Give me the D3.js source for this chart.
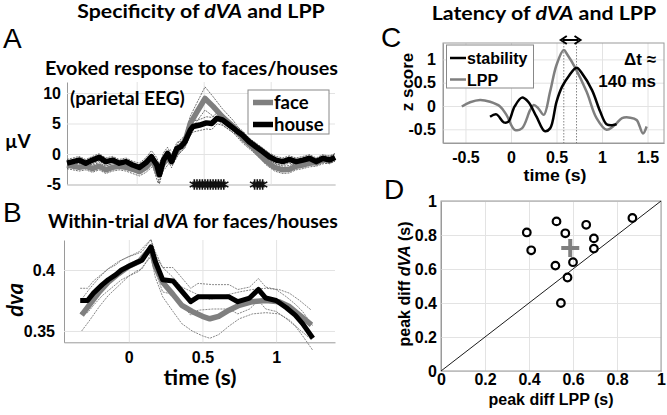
<!DOCTYPE html>
<html>
<head>
<meta charset="utf-8">
<script src="https://cdn.jsdelivr.net/npm/d3@7"></script>
<style>
  body { margin: 0; background: #fff; }
  .cal { font-family: Lato, "Open Sans", sans-serif; font-weight: bold; }
  .hel { font-family: "Liberation Sans", Arial, sans-serif; font-weight: bold; }
</style>
</head>
<body>
<div id="chart"></div>
<script>
// panel A : evoked response (parietal EEG), uV
const timeFaceA = [-0.52,-0.43,-0.38,-0.33,-0.28,-0.23,-0.18,-0.13,-0.08,-0.03,0.02,0.07,0.12,0.16,0.20,0.25,0.27,0.32,0.36,0.40,0.45,0.51,0.57,0.64,0.72,0.79,0.86,0.92,0.97,1.03,1.09,1.14,1.19,1.24,1.29,1.34,1.39,1.44,1.48];
const faceA = [-1.8,-2.2,-2.0,-2.4,-2.0,-2.6,-2.2,-2.0,-2.2,-2.5,-2.9,-2.2,-1.0,-3.3,-1.5,-0.3,-0.7,1.2,2.0,5.0,6.9,9.1,7.8,6.1,4.5,2.6,1.2,-0.15,-1.25,-2.2,-2.6,-2.5,-2.0,-1.8,-1.5,-1.4,-1.0,-0.9,-0.55];
const faceErrA = [0.6,0.6,0.6,0.6,0.6,0.6,0.6,0.6,0.6,0.7,0.7,0.8,1.0,1.5,1.2,1.0,1.0,1.0,1.0,1.2,1.5,1.9,1.6,1.3,1.0,0.8,0.7,0.6,0.6,0.6,0.6,0.6,0.6,0.6,0.6,0.6,0.6,0.6,0.6];
const timeHouseA = [-0.52,-0.43,-0.38,-0.33,-0.28,-0.23,-0.18,-0.13,-0.08,-0.03,0.02,0.07,0.11,0.15,0.17,0.20,0.23,0.26,0.30,0.33,0.36,0.40,0.42,0.47,0.52,0.56,0.60,0.64,0.69,0.74,0.79,0.84,0.89,0.94,0.99,1.04,1.09,1.14,1.19,1.24,1.29,1.34,1.39,1.44,1.48];
const houseA = [-1.5,-1.0,-1.5,-1.0,-0.55,-1.25,-1.0,-1.5,-1.25,-1.8,-2.2,-1.4,-0.45,-1.8,-3.4,-1.0,0.1,-1.25,0.9,1.2,2.0,3.9,4.5,4.75,5.1,5.0,5.85,5.6,4.75,3.9,3.1,2.0,1.2,0.4,-0.45,-1.0,-1.25,-0.9,-1.25,-1.0,-0.7,-1.25,-0.7,-1.0,-0.55];
const houseErrA = [0.6,0.6,0.6,0.6,0.6,0.6,0.6,0.6,0.6,0.6,0.7,0.8,1.0,1.2,1.5,1.2,1.0,1.0,1.0,0.9,0.9,0.9,0.9,0.9,1.0,1.0,0.9,0.9,0.8,0.7,0.7,0.6,0.6,0.6,0.6,0.6,0.6,0.6,0.6,0.6,0.6,0.6,0.6,0.6,0.6];
const sigTimesA = [0.43,0.45,0.47,0.49,0.51,0.53,0.55,0.57,0.59,0.61,0.63,0.65,0.88,0.90,0.92,0.94];

// panel B : within-trial dVA
const timeFaceB = [-0.32,-0.27,-0.20,-0.14,-0.07,0,0.07,0.15,0.18,0.23,0.30,0.36,0.43,0.50,0.55,0.61,0.68,0.75,0.84,0.93,1.02,1.09,1.16,1.24];
const faceB = [0.363,0.371,0.382,0.390,0.397,0.403,0.407,0.418,0.403,0.390,0.380,0.371,0.366,0.362,0.360,0.362,0.367,0.371,0.374,0.375,0.374,0.370,0.363,0.355];
const faceErrB = [0.013,0.013,0.012,0.011,0.010,0.008,0.008,0.007,0.009,0.012,0.014,0.015,0.016,0.016,0.016,0.015,0.013,0.011,0.010,0.010,0.010,0.011,0.012,0.012];
const timeHouseB = [-0.33,-0.28,-0.24,-0.18,-0.14,-0.09,-0.05,0,0.05,0.09,0.15,0.18,0.23,0.30,0.35,0.42,0.47,0.57,0.68,0.74,0.82,0.88,0.93,1.00,1.07,1.13,1.18,1.25];
const houseB = [0.375,0.375,0.381,0.388,0.392,0.396,0.400,0.403,0.406,0.408,0.419,0.407,0.392,0.391,0.384,0.374,0.378,0.378,0.378,0.374,0.377,0.384,0.377,0.375,0.369,0.363,0.356,0.344];
const houseErrB = [0.010,0.010,0.010,0.009,0.009,0.008,0.008,0.008,0.007,0.007,0.006,0.008,0.010,0.011,0.011,0.011,0.011,0.010,0.010,0.010,0.009,0.009,0.009,0.009,0.009,0.009,0.010,0.010];

// panel C : latency (z score)
const timeLPP = [-0.54,-0.45,-0.34,-0.23,-0.12,-0.05,0.04,0.12,0.21,0.25,0.30,0.36,0.43,0.50,0.58,0.62,0.70,0.83,0.94,1.05,1.14,1.22,1.31,1.38,1.45,1.49];
const zLPP = [-0.01,0.08,0.13,0.09,-0.01,-0.19,-0.51,-0.48,-0.09,0.02,-0.05,-0.19,0.31,0.88,1.20,1.10,0.84,0.31,-0.26,-0.51,-0.41,-0.26,-0.25,-0.30,-0.59,-0.44];
const timeStab = [-0.23,-0.16,-0.08,-0.03,0.04,0.12,0.19,0.28,0.37,0.43,0.50,0.56,0.63,0.72,0.78,0.89,0.98,1.05,1.12,1.16];
const zStab = [-0.23,-0.18,-0.35,-0.34,-0.01,0.18,0.09,-0.23,-0.54,-0.48,0.09,0.41,0.63,0.82,0.70,0.34,-0.12,-0.39,-0.41,-0.39];
const peakTimes = [0.58, 0.72];

// panel D : peak difference per subject (s)
const lppPeakDiff = [0.39,0.41,0.525,0.565,0.52,0.60,0.575,0.545,0.66,0.695,0.695,0.87];
const dvaPeakDiff = [0.815,0.71,0.88,0.81,0.62,0.64,0.55,0.40,0.86,0.78,0.72,0.90];

const GRAY = "#7f7f7f";
const svg = d3.select("#chart").append("svg")
  .attr("width", 667).attr("height", 415)
  .style("background", "#fff");

function txt(x, y, s, cls, size, anchor) {
  return svg.append("text").attr("x", x).attr("y", y)
    .attr("class", cls).attr("font-size", size)
    .attr("text-anchor", anchor || "start").text(s);
}

// stretch a text horizontally to the width seen in the figure
function fit(sel, w) {
  const bb = sel.node().getBBox();
  const mid = sel.attr("text-anchor") === "middle";
  const ax = mid ? bb.x + bb.width / 2 : bb.x;
  const k = w / bb.width;
  sel.attr("transform", `translate(${ax},0) scale(${k},1) translate(${-ax},0)`);
  return sel;
}

// axes with grid lines, returns scales
function axes(o) {
  const x = d3.scaleLinear().domain(o.xd).range([o.l, o.r]);
  const y = d3.scaleLinear().domain(o.yd).range([o.b, o.t]);
  const gx = svg.append("g").attr("transform", `translate(0,${o.b})`)
    .call(d3.axisBottom(x).tickValues(o.xt).tickSize(-(o.b - o.t)).tickSizeOuter(0)
      .tickPadding(o.xpad || 0).tickFormat(o.xlab ? d => String(d) : ""));
  const gy = svg.append("g").attr("transform", `translate(${o.l},0)`)
    .call(d3.axisLeft(y).tickValues(o.yt).tickSize(-(o.r - o.l)).tickSizeOuter(0)
      .tickPadding(o.ypad).tickFormat(d => String(d)));
  [gx, gy].forEach(g => {
    g.attr("font-family", null).attr("font-size", null);
    g.select(".domain").attr("stroke", "#9a9a9a").attr("stroke-width", 1);
    g.selectAll(".tick line").attr("stroke", "#e3e3e3").attr("stroke-width", 1);
    g.selectAll(".tick text").attr("class", "hel").attr("font-size", 16).attr("fill", "#000");
  });
  if (o.box) {
    svg.append("rect").attr("x", o.l).attr("y", o.t)
      .attr("width", o.r - o.l).attr("height", o.b - o.t)
      .attr("fill", "none").attr("stroke", "#9a9a9a");
  }
  return { x, y };
}

function band(sc, ts, vs, es, stroke) {
  [1, -1].forEach(s => {
    svg.append("path")
      .datum(ts.map((t, i) => [t, vs[i] + s * es[i]]))
      .attr("d", d3.line().x(d => sc.x(d[0])).y(d => sc.y(d[1])))
      .attr("fill", "none").attr("stroke", stroke)
      .attr("stroke-width", 0.7).attr("stroke-dasharray", "2,1");
  });
}

function thick(sc, ts, vs, color, w, curve) {
  svg.append("path")
    .datum(ts.map((t, i) => [t, vs[i]]))
    .attr("d", d3.line().curve(curve || d3.curveLinear).x(d => sc.x(d[0])).y(d => sc.y(d[1])))
    .attr("fill", "none").attr("stroke", color).attr("stroke-width", w)
    .attr("stroke-linejoin", "round");
}

// ---------- left column titles ----------
const t1 = txt(201, 18, "Specificity of ", "cal", 19, "middle");
t1.append("tspan").attr("font-style", "italic").text("dVA");
t1.append("tspan").text(" and LPP");
fit(t1, 248);
txt(3, 48, "A", "", 28).attr("font-family", "Liberation Sans, Arial, sans-serif");
fit(txt(45, 75, "Evoked response to faces/houses", "cal", 19), 293);

// ---------- panel A ----------
const scA = axes({ l: 67, r: 335, t: 82, b: 184.5, xd: [-0.52, 1.48], yd: [-5, 11.8],
  xt: [0, 0.5, 1], yt: [-5, 0, 5, 10], ypad: 6, xlab: false });
band(scA, timeFaceA, faceA, faceErrA, "#333");
band(scA, timeHouseA, houseA, houseErrA, "#333");
thick(scA, timeFaceA, faceA, GRAY, 5.5);
thick(scA, timeHouseA, houseA, "#000", 5.5);
const star = d3.symbol().type(d3.symbolAsterisk || d3.symbolCross).size(80);
svg.append("g").selectAll("path").data(sigTimesA).join("path")
  .attr("transform", d => `translate(${scA.x(d)},${scA.y(-5)})`)
  .attr("d", star).attr("fill", "none").attr("stroke", "#111").attr("stroke-width", 1.6);
fit(txt(70, 105, "(parietal EEG)", "cal", 18), 115);
txt(5, 148, "µV", "cal", 19);
// legend A
svg.append("rect").attr("x", 248).attr("y", 90).attr("width", 81).attr("height", 44)
  .attr("fill", "#fff").attr("stroke", "#888");
[["face", GRAY, 102.5], ["house", "#000", 124.5]].forEach(([n, c, yy]) => {
  svg.append("line").attr("x1", 253).attr("x2", 273).attr("y1", yy).attr("y2", yy)
    .attr("stroke", c).attr("stroke-width", 5.5);
  txt(274, yy + 6, n, "cal", 18.5);
});

// ---------- panel B ----------
txt(3, 222, "B", "", 28).attr("font-family", "Liberation Sans, Arial, sans-serif");
const t2 = txt(48, 228, "Within-trial ", "cal", 19);
t2.append("tspan").attr("font-style", "italic").text("dVA");
t2.append("tspan").text(" for faces/houses");
fit(t2, 290);
const scB = axes({ l: 64, r: 335, t: 240, b: 342.3, xd: [-0.44, 1.40], yd: [0.3407, 0.4246],
  xt: [0, 0.5, 1], yt: [0.35, 0.4], ypad: 9, xpad: 9.5, xlab: true });
band(scB, timeFaceB, faceB, faceErrB, "#555");
band(scB, timeHouseB, houseB, houseErrB, "#555");
thick(scB, timeFaceB, faceB, GRAY, 5.5);
thick(scB, timeHouseB, houseB, "#000", 5);
svg.append("text").attr("class", "cal").attr("font-size", 22).attr("font-style", "italic")
  .attr("text-anchor", "middle").attr("transform", "translate(23,300) rotate(-90)").text("dva");
fit(txt(200, 385, "time (s)", "cal", 20, "middle"), 73);

// ---------- panel C ----------
const t3 = txt(544, 20, "Latency of ", "cal", 19, "middle");
t3.append("tspan").attr("font-style", "italic").text("dVA");
t3.append("tspan").text(" and LPP");
fit(t3, 225);
txt(381, 47, "C", "", 28).attr("font-family", "Liberation Sans, Arial, sans-serif");
const scC = axes({ l: 443, r: 664, t: 43, b: 143, xd: [-0.747, 1.681], yd: [-0.794, 1.352],
  xt: [-0.5, 0, 0.5, 1, 1.5], yt: [-0.5, 0, 0.5, 1], ypad: 7, xpad: 9, xlab: true, box: true });
peakTimes.forEach(p => {
  svg.append("line").attr("x1", scC.x(p)).attr("x2", scC.x(p)).attr("y1", 43).attr("y2", 143)
    .attr("stroke", "#666").attr("stroke-width", 0.8).attr("stroke-dasharray", "1.5,1.5");
});
thick(scC, timeLPP, zLPP, GRAY, 2.5, d3.curveCatmullRom);
thick(scC, timeStab, zStab, "#000", 2.5, d3.curveCatmullRom);
// double arrow between peaks
const ax0 = scC.x(peakTimes[0]) - 3, ax1 = scC.x(peakTimes[1]) + 4, ay = 40;
svg.append("line").attr("x1", ax0 + 2).attr("x2", ax1 - 2).attr("y1", ay).attr("y2", ay)
  .attr("stroke", "#000").attr("stroke-width", 2);
svg.append("path").attr("d", `M${ax0 + 6},${ay - 4} L${ax0},${ay} L${ax0 + 6},${ay + 4} M${ax1 - 6},${ay - 4} L${ax1},${ay} L${ax1 - 6},${ay + 4}`)
  .attr("fill", "none").attr("stroke", "#000").attr("stroke-width", 2);
// legend C
svg.append("rect").attr("x", 446.5).attr("y", 45).attr("width", 87).attr("height", 43)
  .attr("fill", "#fff").attr("stroke", "#888");
[["stability", "#000", 58], ["LPP", GRAY, 79.5]].forEach(([n, c, yy]) => {
  svg.append("line").attr("x1", 450).attr("x2", 466).attr("y1", yy).attr("y2", yy)
    .attr("stroke", c).attr("stroke-width", 2.5);
  txt(467, yy + 6, n, "hel", 16);
});
txt(656, 65, "Δt ≈", "hel", 17, "end");
txt(656, 87, "140 ms", "hel", 17, "end");
svg.append("text").attr("class", "hel").attr("font-size", 17).attr("text-anchor", "middle")
  .attr("transform", "translate(413,82) rotate(-90)").text("z score");
fit(txt(555, 181, "time (s)", "hel", 17, "middle"), 63);

// ---------- panel D ----------
txt(384, 199, "D", "", 28).attr("font-family", "Liberation Sans, Arial, sans-serif");
const dt = [0, 0.2, 0.4, 0.6, 0.8, 1];
const scD = axes({ l: 441, r: 661, t: 201, b: 371, xd: [0, 1], yd: [0, 1],
  xt: dt, yt: dt, ypad: 4, xpad: 2.5, xlab: true, box: true });
svg.append("path").datum([0, 1])
  .attr("d", d3.line().x(d => scD.x(d)).y(d => scD.y(d)))
  .attr("stroke", "#000").attr("stroke-width", 0.9);
svg.append("g").selectAll("circle").data(lppPeakDiff).join("circle")
  .attr("cx", d => scD.x(d)).attr("cy", (d, i) => scD.y(dvaPeakDiff[i]))
  .attr("r", 3.8).attr("fill", "none").attr("stroke", "#000").attr("stroke-width", 2.2);
const mx = d3.mean(lppPeakDiff), my = d3.mean(dvaPeakDiff);
svg.append("path")
  .attr("d", `M${scD.x(mx) - 9},${scD.y(my)} H${scD.x(mx) + 9} M${scD.x(mx)},${scD.y(my) - 9} V${scD.y(my) + 9}`)
  .attr("stroke", GRAY).attr("stroke-width", 4);
const yl = svg.append("text").attr("class", "hel").attr("font-size", 16).attr("text-anchor", "middle")
  .attr("transform", "translate(410,284) rotate(-90)").text("peak diff ");
yl.append("tspan").attr("font-style", "italic").text("dVA");
yl.append("tspan").text(" (s)");
txt(551, 405, "peak diff LPP (s)", "hel", 16, "middle");
</script>
</body>
</html>
